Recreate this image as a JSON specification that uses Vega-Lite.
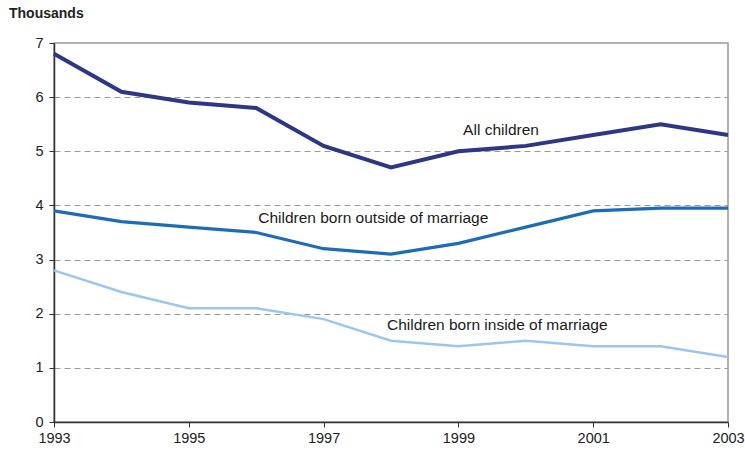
{
  "$schema": "https://vega.github.io/schema/vega-lite/v6.json",
  "width": 674,
  "height": 379,
  "autosize": {"type": "none"},
  "padding": {"left": 54, "top": 43, "right": 17, "bottom": 31},
  "background": "white",
  "config": {
    "font": "Liberation Sans",
    "view": {"stroke": "#999999", "strokeWidth": 1.5}
  },
  "title": {
    "text": "Thousands",
    "anchor": "start",
    "frame": "group",
    "font": "Liberation Sans",
    "fontSize": 14,
    "fontWeight": "bold",
    "color": "#222222",
    "dx": -45,
    "offset": 14
  },
  "datasets": {
    "series": [
      {"year": 1993, "series": "All children", "value": 6.8},
      {"year": 1994, "series": "All children", "value": 6.1},
      {"year": 1995, "series": "All children", "value": 5.9},
      {"year": 1996, "series": "All children", "value": 5.8},
      {"year": 1997, "series": "All children", "value": 5.1},
      {"year": 1998, "series": "All children", "value": 4.7},
      {"year": 1999, "series": "All children", "value": 5.0},
      {"year": 2000, "series": "All children", "value": 5.1},
      {"year": 2001, "series": "All children", "value": 5.3},
      {"year": 2002, "series": "All children", "value": 5.5},
      {"year": 2003, "series": "All children", "value": 5.3},
      {"year": 1993, "series": "Children born outside of marriage", "value": 3.9},
      {"year": 1994, "series": "Children born outside of marriage", "value": 3.7},
      {"year": 1995, "series": "Children born outside of marriage", "value": 3.6},
      {"year": 1996, "series": "Children born outside of marriage", "value": 3.5},
      {"year": 1997, "series": "Children born outside of marriage", "value": 3.2},
      {"year": 1998, "series": "Children born outside of marriage", "value": 3.1},
      {"year": 1999, "series": "Children born outside of marriage", "value": 3.3},
      {"year": 2000, "series": "Children born outside of marriage", "value": 3.6},
      {"year": 2001, "series": "Children born outside of marriage", "value": 3.9},
      {"year": 2002, "series": "Children born outside of marriage", "value": 3.95},
      {"year": 2003, "series": "Children born outside of marriage", "value": 3.95},
      {"year": 1993, "series": "Children born inside of marriage", "value": 2.8},
      {"year": 1994, "series": "Children born inside of marriage", "value": 2.4},
      {"year": 1995, "series": "Children born inside of marriage", "value": 2.1},
      {"year": 1996, "series": "Children born inside of marriage", "value": 2.1},
      {"year": 1997, "series": "Children born inside of marriage", "value": 1.9},
      {"year": 1998, "series": "Children born inside of marriage", "value": 1.5},
      {"year": 1999, "series": "Children born inside of marriage", "value": 1.4},
      {"year": 2000, "series": "Children born inside of marriage", "value": 1.5},
      {"year": 2001, "series": "Children born inside of marriage", "value": 1.4},
      {"year": 2002, "series": "Children born inside of marriage", "value": 1.4},
      {"year": 2003, "series": "Children born inside of marriage", "value": 1.2}
    ],
    "labels": [
      {"year": 1999.07, "value": 5.39, "label": "All children"},
      {"year": 1996.03, "value": 3.77, "label": "Children born outside of marriage"},
      {"year": 1997.94, "value": 1.79, "label": "Children born inside of marriage"}
    ]
  },
  "layer": [
    {
      "data": {"name": "series"},
      "mark": {"type": "line", "strokeJoin": "miter"},
      "encoding": {
        "x": {
          "field": "year", "type": "quantitative",
          "scale": {"domain": [1993, 2003], "nice": false, "zero": false},
          "axis": {
            "title": null, "values": [1993, 1995, 1997, 1999, 2001, 2003], "format": "d",
            "grid": false, "domainColor": "#333333", "domainWidth": 1.5,
            "tickColor": "#333333", "tickSize": 5, "labelFontSize": 14.5,
            "labelColor": "#222222", "labelPadding": 4, "labelFlush": false
          }
        },
        "y": {
          "field": "value", "type": "quantitative",
          "scale": {"domain": [0, 7], "nice": false},
          "axis": {
            "title": null, "values": [0, 1, 2, 3, 4, 5, 6, 7], "format": "d", "grid": true,
            "gridDash": [6, 4], "gridColor": "#999999", "gridWidth": 1.2,
            "gridOpacity": {"condition": {"test": "datum.value == 7 || datum.value == 0", "value": 0}, "value": 1},
            "domainColor": "#333333", "domainWidth": 1.5,
            "tickColor": "#333333", "tickSize": 5, "labelFontSize": 14.5,
            "labelColor": "#222222", "labelPadding": 6
          }
        },
        "color": {
          "field": "series", "type": "nominal",
          "scale": {
            "domain": ["All children", "Children born outside of marriage", "Children born inside of marriage"],
            "range": ["#2E3785", "#1C6DB5", "#9CC7EC"]
          },
          "legend": null
        },
        "strokeWidth": {
          "field": "series", "type": "nominal",
          "scale": {
            "domain": ["All children", "Children born outside of marriage", "Children born inside of marriage"],
            "range": [4, 2.5, 2.5]
          },
          "legend": null
        }
      }
    },
    {
      "data": {"name": "labels"},
      "mark": {"type": "text", "align": "left", "baseline": "middle", "fontSize": 15.5, "color": "#1a1a1a"},
      "encoding": {
        "x": {"field": "year", "type": "quantitative"},
        "y": {"field": "value", "type": "quantitative"},
        "text": {"field": "label"}
      }
    }
  ]
}
